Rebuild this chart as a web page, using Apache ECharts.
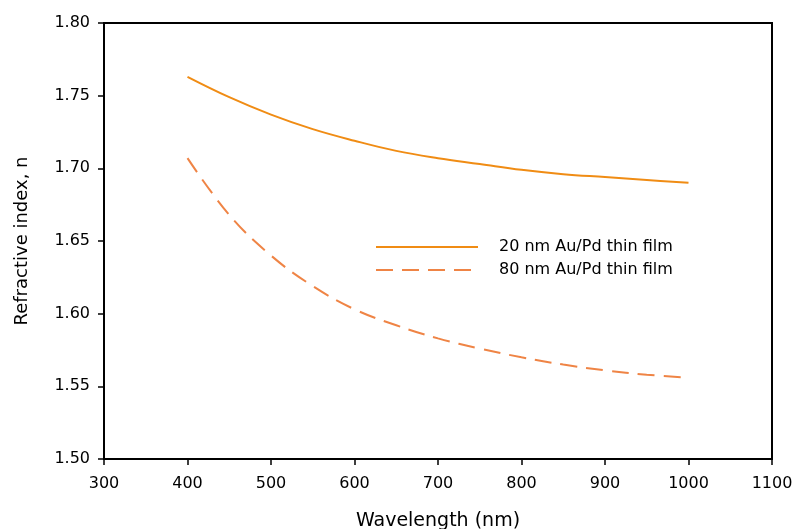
<!DOCTYPE html>
<html>
<head>
<meta charset="UTF-8">
<title>Refractive index</title>
<script src="https://cdn.jsdelivr.net/npm/echarts@6/dist/echarts.min.js"></script>
</head>
<body style="margin:0;background:#fff;">
<div id="main" style="width:798px;height:529px;"></div>
<script type="text/javascript">
// values
var wavelengths = [400, 450, 500, 550, 600, 650, 700, 750, 800, 850, 900, 950, 1000];
var film20 = [1.763, 1.749, 1.737, 1.727, 1.719, 1.712, 1.707, 1.703, 1.699, 1.696, 1.694, 1.692, 1.690];
var film80 = [1.707, 1.668, 1.640, 1.619, 1.603, 1.592, 1.583, 1.576, 1.570, 1.565, 1.561, 1.558, 1.556];
var seriesNames = ['20 nm Au/Pd thin film', '80 nm Au/Pd thin film'];

function pairs(ys) {
    return wavelengths.map(function (x, i) { return [x, ys[i]]; });
}

var font = 'DejaVu Sans, sans-serif';
var chart = echarts.init(document.getElementById('main'));
chart.setOption({
    animation: false,
    backgroundColor: '#fff',
    textStyle: { fontFamily: font },
    grid: {
        left: 104, right: 26, top: 23, bottom: 70,
        outerBoundsMode: 'none',
        show: true, borderColor: '#000', borderWidth: 2
    },
    legend: {
        orient: 'vertical',
        left: 370, top: 234,
        itemWidth: 102, itemHeight: 14, itemGap: 7,
        itemStyle: { opacity: 0 },
        textStyle: { fontFamily: font, fontSize: 16, color: '#000', padding: [0, 0, 0, 16] },
        data: seriesNames
    },
    xAxis: {
        type: 'value',
        min: 300, max: 1100, interval: 100,
        name: 'Wavelength (nm)',
        nameLocation: 'middle', nameGap: 53,
        nameTextStyle: { fontSize: 19, color: '#000' },
        axisLine: { lineStyle: { color: '#000', width: 2 } },
        axisTick: { inside: false, length: 6, lineStyle: { color: '#000', width: 1.5 } },
        axisLabel: { fontSize: 16, color: '#000', margin: 17, formatter: function (v) { return String(v); } },
        splitLine: { show: false }
    },
    yAxis: {
        type: 'value',
        min: 1.5, max: 1.8, interval: 0.05,
        name: 'Refractive index, n',
        nameLocation: 'middle', nameGap: 73,
        nameTextStyle: { fontSize: 18, color: '#000' },
        axisLine: { show: true, lineStyle: { color: '#000', width: 2 } },
        axisTick: { show: true, inside: false, length: 6, lineStyle: { color: '#000', width: 1.5 } },
        axisLabel: { fontSize: 16, color: '#000', margin: 14, formatter: function (v) { return v.toFixed(2); } },
        splitLine: { show: false }
    },
    series: [
        {
            name: seriesNames[0],
            type: 'line',
            smooth: 0.4,
            symbol: 'none',
            lineStyle: { color: '#f08c14', width: 2 },
            itemStyle: { color: '#f08c14' },
            data: pairs(film20)
        },
        {
            name: seriesNames[1],
            type: 'line',
            smooth: 0.4,
            symbol: 'none',
            lineStyle: { color: '#ef8445', width: 2, type: [17, 9] },
            itemStyle: { color: '#ef8445' },
            data: pairs(film80)
        }
    ]
});
</script>
</body>
</html>
